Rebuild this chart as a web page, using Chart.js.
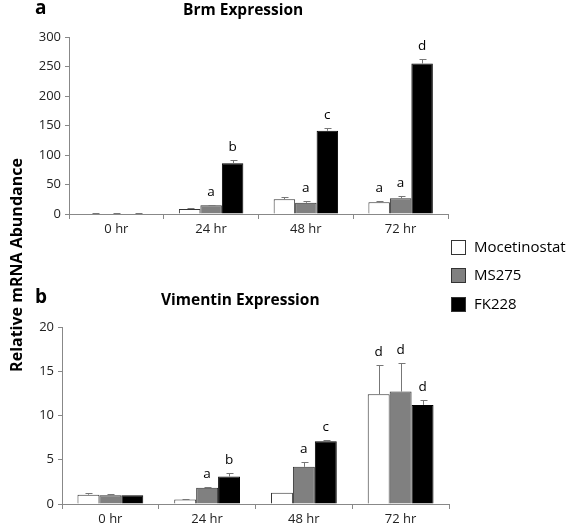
<!DOCTYPE html>
<html lang="en">
<head>
<meta charset="UTF-8">
<title>Brm and Vimentin Expression</title>
<script src="https://cdn.jsdelivr.net/npm/chart.js@4.4.0/dist/chart.umd.min.js"></script>
<style>
  body { margin: 0; background: #fff; width: 567px; height: 529px; position: relative; overflow: hidden; font-family: "Open Sans", sans-serif; }
  canvas { position: absolute; left: 0; }
  .txt { position: absolute; white-space: nowrap; color: #000; line-height: 1; }
  .box { position: absolute; width: 15px; height: 15px; border: 1px solid #333; box-sizing: border-box; }
</style>
</head>
<body>

<canvas id="chartA" width="567" height="240" style="top:0"></canvas>
<canvas id="chartB" width="567" height="269" style="top:260px"></canvas>

<div class="txt" style="left:35px;top:-2px;font-size:19px;font-weight:bold">a</div>
<div class="txt" style="left:35px;top:287px;font-size:19px;font-weight:bold">b</div>
<div class="txt" style="left:183px;top:2px;font-size:15.5px;font-weight:bold">Brm Expression</div>
<div class="txt" style="left:161px;top:292px;font-size:15.5px;font-weight:bold">Vimentin Expression</div>
<div class="txt" style="left:16px;top:265px;font-size:16px;font-weight:bold;transform:translate(-50%,-50%) rotate(-90deg)">Relative mRNA Abundance</div>

<div id="legend"></div>

<script>
// categories and series
const hours = ['0 hr', '24 hr', '48 hr', '72 hr'];
const seriesNames = ['Mocetinostat', 'MS275', 'FK228'];
const seriesColors = ['#ffffff', '#808080', '#000000'];

// Brm (panel a)
const brmMoc = [1, 8.5, 25, 20];
const brmMocErr = [0.6, 2.5, 3, 2];
const brmMs = [1, 15, 19, 26.5];
const brmMsErr = [0.6, 0.5, 2.5, 3.5];
const brmFk = [1, 86, 141, 255];
const brmFkErr = [0.6, 6, 5, 8];
const brmMocLetters = ['', '', '', 'a'];
const brmMsLetters = ['', 'a', 'a', 'a'];
const brmFkLetters = ['', 'b', 'c', 'd'];
const brmTicks = [0, 300, 50];

// Vimentin (panel b)
const vimMoc = [1.05, 0.5, 1.28, 12.4];
const vimMocErr = [0.2, 0.1, 0, 3.3];
const vimMs = [1.0, 1.84, 4.2, 12.7];
const vimMsErr = [0.12, 0.12, 0.6, 3.2];
const vimFk = [1.0, 3.1, 7.08, 11.2];
const vimFkErr = [0, 0.35, 0.12, 0.55];
const vimMocLetters = ['', '', '', 'd'];
const vimMsLetters = ['', 'a', 'a', 'd'];
const vimFkLetters = ['', 'b', 'c', 'd'];
const vimTicks = [0, 20, 5];

// error bars + significance letters
const errorBars = {
  id: 'errorBars',
  afterDatasetsDraw(chart) {
    const ctx = chart.ctx;
    const y = chart.scales.y;
    chart.data.datasets.forEach((ds, i) => {
      chart.getDatasetMeta(i).data.forEach((bar, j) => {
        const base = y.getPixelForValue(ds.data[j]);
        const top = y.getPixelForValue(ds.data[j] + ds.errors[j]);
        ctx.save();
        if (ds.errors[j] > 0) {
          const x = Math.round(bar.x) + 0.5;
          ctx.strokeStyle = '#777';
          ctx.lineWidth = 1;
          ctx.beginPath();
          ctx.moveTo(x, base);
          ctx.lineTo(x, Math.round(top) + 0.5);
          ctx.moveTo(x - 3, Math.round(top) + 0.5);
          ctx.lineTo(x + 4, Math.round(top) + 0.5);
          ctx.stroke();
        }
        if (ds.letters[j]) {
          ctx.fillStyle = '#000';
          ctx.font = '13.5px "Open Sans"';
          ctx.textAlign = 'center';
          ctx.textBaseline = 'alphabetic';
          ctx.fillText(ds.letters[j], bar.x, top - 9);
        }
        ctx.restore();
      });
    });
  }
};

function makeDatasets(vals, errs, letters) {
  return vals.map((v, i) => ({
    label: seriesNames[i],
    data: v,
    errors: errs[i],
    letters: letters[i],
    backgroundColor: seriesColors[i],
    borderColor: i === 2 ? '#000' : '#333',
    borderWidth: 1,
    categoryPercentage: 0.68,
    barPercentage: 1
  }));
}

function makeChart(id, vals, errs, letters, ticks, axisWidth, padRight, padTop, xHeight) {
  return new Chart(document.getElementById(id), {
    type: 'bar',
    data: { labels: hours, datasets: makeDatasets(vals, errs, letters) },
    options: {
      responsive: false,
      animation: false,
      layout: { padding: { left: 0, right: padRight, top: padTop, bottom: 0 } },
      plugins: { legend: { display: false }, tooltip: { enabled: false } },
      scales: {
        x: {
          grid: { drawOnChartArea: false, drawTicks: true, tickLength: 5, color: '#888' },
          border: { color: '#888' },
          ticks: { color: '#222', font: { family: 'Open Sans', size: 13 }, padding: 2 },
          afterFit(s) { s.height = xHeight; }
        },
        y: {
          min: ticks[0], max: ticks[1],
          grid: { drawOnChartArea: false, drawTicks: true, tickLength: 4, color: '#888' },
          border: { color: '#888' },
          ticks: { stepSize: ticks[2], color: '#222', font: { family: 'Open Sans', size: 13 }, padding: 4 },
          afterFit(s) { s.width = axisWidth; }
        }
      }
    },
    plugins: [errorBars]
  });
}

makeChart('chartA',
  [brmMoc, brmMs, brmFk], [brmMocErr, brmMsErr, brmFkErr],
  [brmMocLetters, brmMsLetters, brmFkLetters], brmTicks, 69, 119, 37, 26);
makeChart('chartB',
  [vimMoc, vimMs, vimFk], [vimMocErr, vimMsErr, vimFkErr],
  [vimMocLetters, vimMsLetters, vimFkLetters], vimTicks, 62, 118, 67, 25);

// legend
const legend = document.getElementById('legend');
const legendTop = [240, 268, 297];
seriesNames.forEach((name, i) => {
  const box = document.createElement('div');
  box.className = 'box';
  box.style.left = '451px';
  box.style.top = legendTop[i] + 'px';
  box.style.background = seriesColors[i];
  legend.appendChild(box);
  const t = document.createElement('div');
  t.className = 'txt';
  t.style.left = '474px';
  t.style.top = (legendTop[i] - 1) + 'px';
  t.style.fontSize = '15px';
  t.textContent = name;
  legend.appendChild(t);
});
</script>
</body>
</html>
